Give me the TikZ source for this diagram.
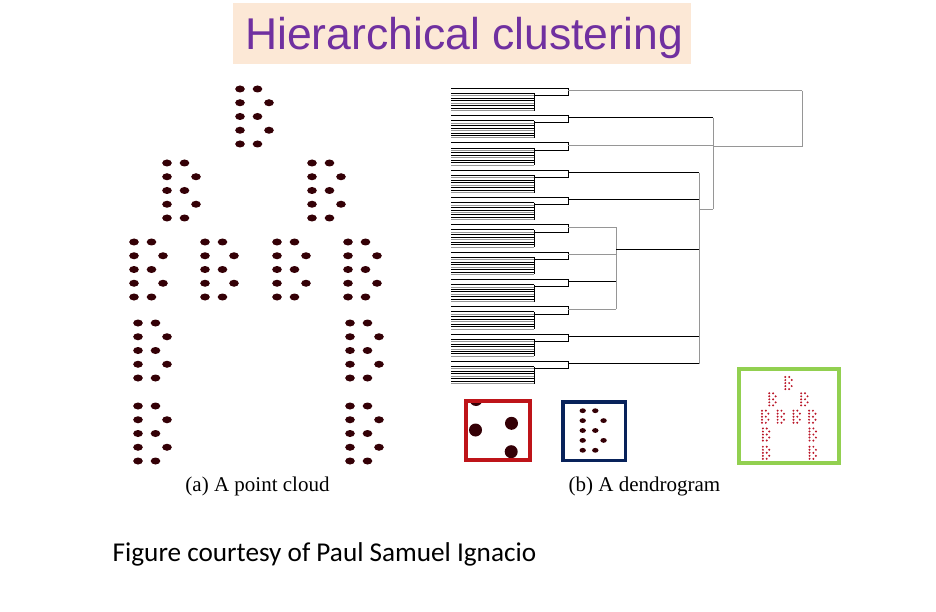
\documentclass[tikz,border=0pt]{standalone}
\usepackage{fontspec}
\newfontfamily\titlefont{Liberation Sans}
\newfontfamily\capfont{Liberation Serif}
\newfontfamily\creditfont{Carlito}

\begin{document}
\begin{tikzpicture}[x=1pt, y=-1pt]

\definecolor{title_bg}{RGB}{252,232,214}
\definecolor{title_text}{RGB}{112,48,160}
\definecolor{dot_color}{RGB}{52,0,6}
\definecolor{mini_color}{RGB}{186,22,40}
\definecolor{zoom_red}{RGB}{190,20,25}
\definecolor{zoom_blue}{RGB}{8,34,90}
\definecolor{zoom_green}{RGB}{146,208,80}
\definecolor{leaf_gray}{RGB}{150,150,150}

\tikzset{
  ink/.style={line width=1pt, draw=black},
  shade/.style={line width=1pt, draw=leaf_gray},
  frame/.style={line width=3.4pt},
  bigdot/.style={fill=dot_color, x radius=4.8pt, y radius=3.5pt},
  middot/.style={fill=dot_color, x radius=3.2pt, y radius=2.4pt},
  minidot/.style={fill=mini_color, x radius=1.1pt, y radius=1.1pt},
  lab/.style={inner sep=0pt, anchor=base},
}

\newcommand{\cloudB}[4]{%
  \foreach \dx/\dy in {0/0, 17.5/0, 0/13.75, 29/13.75, 0/27.5, 17.5/27.5, 0/41.25, 29/41.25, 0/55, 17.5/55}
    \fill[#4] ({#1+#3*\dx}, {#2+#3*\dy}) ellipse [];
}

\useasboundingbox (0,0) rectangle (936,612);

\node[fill=title_bg, minimum width=458pt, minimum height=61pt, inner sep=0pt] (titlebox) at (462,33.5) {};
\node[lab, text=title_text, font=\titlefont\fontsize{44.5}{44.5}\selectfont] (title) at (464,50) {Hierarchical clustering};

\foreach \cx/\cy in {240/89, 167/163, 312/163, 134/242, 205/242, 277/242, 348/242, 138/323, 350/323, 138/406, 350/406} {
  \cloudB{\cx}{\cy}{1}{bigdot}
  \cloudB{762+0.22*(\cx-134)}{377+0.22*(\cy-89)}{0.22}{minidot}
}

\foreach \g/\xx/\oc in {0/802/shade, 1/713/ink, 2/713/shade, 3/699/ink, 4/699/ink, 5/616/shade, 6/616/shade, 7/616/ink, 8/616/shade, 9/699/ink, 10/699/ink} {
  \pgfmathsetmacro\t{88.3+27.3*\g}
  \draw[ink] (451,\t) -- (568,\t) -- (568,{\t+7.4}) -- (534,{\t+7.4});
  \foreach \k/\lc in {0/ink, 1/shade, 2/ink, 3/ink, 4/shade, 5/ink, 6/ink, 7/shade}
    \draw[\lc] (451,{\t+5.2+2.45*\k}) -- (534,{\t+5.2+2.45*\k});
  \draw[ink] (534,{\t+5.2}) -- (534,{\t+22.35});
  \draw[\oc] (568,{\t+2.4}) -- (\xx,{\t+2.4});
}

\draw[shade] (616,227.2) -- (616,309.1);
\draw[ink] (616,249.3) -- (699,249.3);
\draw[shade] (699,172.6) -- (699,363.7);
\draw[shade] (699,209.3) -- (713,209.3);
\draw[shade] (713,118) -- (713,209.3);
\draw[shade] (713,146.7) -- (802,146.7);
\draw[shade] (802,90.7) -- (802,146.7);

\begin{scope}
  \clip (466,401) rectangle (530,460);
  \fill[dot_color] (476,399.5) circle [radius=6.5pt];
  \fill[dot_color] (475.5,430) circle [radius=6.5pt];
  \fill[dot_color] (511.5,423.3) circle [radius=6.5pt];
  \fill[dot_color] (511.2,451.7) circle [radius=6.5pt];
\end{scope}
\draw[frame, draw=zoom_red] (466,401) rectangle (530,460);

\cloudB{582.7}{410.7}{0.72}{middot}
\draw[frame, draw=zoom_blue] (563,402) rectangle (625.3,460.3);

\draw[frame, line width=4pt, draw=zoom_green] (739,369) rectangle (839,462.5);

\node[lab, font=\capfont\fontsize{21}{21}\selectfont] (capa) at (257.5,491.5) {(a) A point cloud};
\node[lab, font=\capfont\fontsize{21}{21}\selectfont] (capb) at (644.5,491.5) {(b) A dendrogram};
\node[lab, anchor=base west, font=\creditfont\fontsize{27.2}{27.2}\selectfont] (credit) at (112.5,561.7) {Figure courtesy of Paul Samuel Ignacio};

\end{tikzpicture}
\end{document}
